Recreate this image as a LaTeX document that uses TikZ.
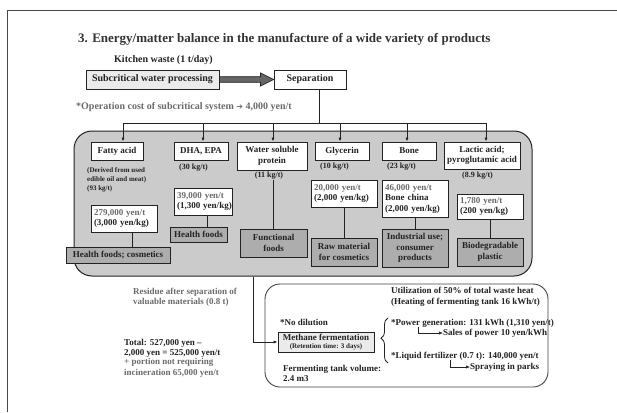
\documentclass[tikz,border=0pt]{standalone}
\usepackage{fontspec}
\setmainfont{Liberation Serif}
\newfontfamily\symfont{DejaVu Sans}
\usetikzlibrary{arrows.meta,decorations.pathreplacing,calc}

\definecolor{ink}{HTML}{222222}
\definecolor{titleink}{HTML}{333333}
\definecolor{graytext}{HTML}{6A6A6A}
\definecolor{panelgray}{HTML}{CBCBCB}
\definecolor{prodgray}{HTML}{ADADAD}
\definecolor{lightgray}{HTML}{EBEBEB}
\definecolor{framegray}{HTML}{4A4A4A}
\definecolor{shaftgray}{HTML}{666666}

\tikzset{
  base/.style={inner sep=0pt, font=\fontsize{9}{10.5}\selectfont\bfseries, text=ink, align=center},
  box/.style={base, draw=ink, line width=0.9pt, fill=white},
  bigbox/.style={box, font=\fontsize{10}{12}\selectfont\bfseries},
  prodbox/.style={box, fill=prodgray},
  pricebox/.style={box, align=left, inner xsep=3pt},
  note/.style={base, anchor=west, align=left},
  yieldnote/.style={note, font=\fontsize{8}{9.5}\selectfont\bfseries},
  conn/.style={draw=ink, line width=0.8pt},
  arr/.style={conn, -{Latex[length=4pt,width=3.2pt]}},
}

\begin{document}
\begin{tikzpicture}[x=1pt,y=-1pt]
\useasboundingbox (0,0) rectangle (617,412);

% page frame
\draw[framegray, line width=1pt] (7.5,412) -- (7.5,11) -- (617,11);

% title and input
\node[note, font=\fontsize{13}{15}\selectfont\bfseries, text=titleink] (title) at (78,39)
  {3. Energy/matter balance in the manufacture of a wide variety of products};
\node[note, font=\fontsize{10}{12}\selectfont\bfseries] (kw) at (114,60) {Kitchen waste (1 t/day)};

% processing chain
\node[bigbox, fill=lightgray, minimum width=133pt, minimum height=19pt] (sub) at (152.5,79.5) {Subcritical water processing};
\node[bigbox, minimum width=72pt, minimum height=19pt] (sep) at (310,79.5) {Separation};
\filldraw[fill=shaftgray, draw=ink, line width=0.7pt]
  ($(sub.east)+(0,-2.8)$) -- ($(sep.west)+(-13,-2.8)$) -- ($(sep.west)+(-13,-6.5)$) --
  (sep.west) -- ($(sep.west)+(-13,6.5)$) -- ($(sep.west)+(-13,2.8)$) -- ($(sub.east)+(0,2.8)$) -- cycle;

\node[note, font=\fontsize{10}{12}\selectfont\bfseries, text=graytext] (cost) at (76,107)
  {*Operation cost of subcritical system {\symfont\fontsize{8}{10}\selectfont ➔} 4,000 yen/t};

% products panel
\node[draw=ink, line width=1pt, fill=panelgray, rounded corners=18pt, minimum width=458pt, minimum height=145pt, inner sep=0pt] (panel) at (303,203.5) {};

% product headings
\node[box, minimum width=52pt, minimum height=18pt] (fatty) at (117,151) {Fatty acid};
\node[box, minimum width=54pt, minimum height=18pt] (dha) at (201,151) {DHA, EPA};
\node[box, minimum width=70pt, minimum height=28pt] (water) at (272,156) {Water soluble\\protein};
\node[box, minimum width=54pt, minimum height=18pt] (gly) at (342,151) {Glycerin};
\node[box, minimum width=54pt, minimum height=18pt] (bone) at (409,151) {Bone};
\node[box, minimum width=76pt, minimum height=27pt] (lactic) at (482,155.5) {Lactic acid;\\pyroglutamic acid};

% distribution bar
\coordinate (sj) at (319,123);
\coordinate (a1) at (123,123);
\coordinate (a2) at (203,123);
\coordinate (a3) at (273,123);
\coordinate (a4) at (340,123);
\coordinate (a5) at (407,123);
\coordinate (a6) at (486,123);
\draw[conn] (sep.south -| sj) -- (sj);
\draw[conn] (a1) -- (a6);
\draw[arr] (a1) -- (a1 |- fatty.north);
\draw[arr] (a2) -- (a2 |- dha.north);
\draw[arr] (a3) -- (a3 |- water.north);
\draw[arr] (a4) -- (a4 |- gly.north);
\draw[arr] (a5) -- (a5 |- bone.north);
\draw[arr] (a6) -- (a6 |- lactic.north);

% yields
\node[note, font=\fontsize{7}{9}\selectfont\bfseries] (fnote) at (87,180) {(Derived from used\\edible oil and meat)\\(93 kg/t)};
\node[yieldnote] (y2) at (179,168) {(30 kg/t)};
\node[yieldnote, anchor=center] (y3) at (269,176) {(11 kg/t)};
\node[yieldnote] (y4) at (320,167) {(10 kg/t)};
\node[yieldnote] (y5) at (387,167) {(23 kg/t)};
\node[yieldnote] (y6) at (462,176) {(8.9 kg/t)};

% prices
\node[pricebox, text width=60pt, minimum height=27pt] (p1) at (124,218.5) {\mbox{\textcolor{graytext}{279,000 yen/t}}\\\mbox{(3,000 yen/kg)}};
\node[pricebox, text width=52pt, minimum height=27pt] (p2) at (203,201.5) {\mbox{\textcolor{graytext}{39,000 yen/t}}\\\mbox{(1,300 yen/kg)}};
\node[pricebox, text width=60pt, minimum height=27pt] (p3) at (344,193.5) {\mbox{\textcolor{graytext}{20,000 yen/t}}\\\mbox{(2,000 yen/kg)}};
\node[pricebox, text width=60pt, minimum height=37pt] (p4) at (415,198.5) {\mbox{\textcolor{graytext}{46,000 yen/t}}\\Bone china\\\mbox{(2,000 yen/kg)}};
\node[pricebox, text width=60pt, minimum height=25pt] (p5) at (490,206.5) {\mbox{\textcolor{graytext}{1,780 yen/t}}\\\mbox{(200 yen/kg)}};

% uses
\node[prodbox, minimum width=104pt, minimum height=16pt] (h1) at (118,255) {Health foods; cosmetics};
\node[prodbox, minimum width=57pt, minimum height=15pt] (h2) at (198.5,234.5) {Health foods};
\node[prodbox, minimum width=67pt, minimum height=28pt] (h3) at (273.5,243) {Functional\\foods};
\node[prodbox, minimum width=66pt, minimum height=28pt] (h4) at (344,252) {Raw material\\for cosmetics};
\node[prodbox, minimum width=66pt, minimum height=38pt] (h5) at (415,248) {Industrial use;\\consumer\\products};
\node[prodbox, minimum width=66pt, minimum height=28pt] (h6) at (490,252) {Biodegradable\\plastic};

\coordinate (c1) at (132,0);
\coordinate (c2) at (207,0);
\draw[conn] (p1.south -| c1) -- (h1.north -| c1);
\draw[conn] (p2.south -| c2) -- (h2.north -| c2);
\draw[conn] (y3.south -| h3.north) -- (h3.north);
\draw[conn] (p3.south) -- (h4.north);
\draw[conn] (p4.south) -- (h5.north);
\draw[conn] (p5.south) -- (h6.north);

% residue and methane fermentation
\node[note, text=graytext] (res) at (133,297.5) {Residue after separation of\\valuable materials (0.8 t)};
\node[draw=ink!85, line width=0.9pt, fill=white, rounded corners=15pt, minimum width=283pt, minimum height=103pt, inner sep=0pt] (lower) at (406.5,335.5) {};
\node[box, fill=lightgray, minimum width=96pt, minimum height=20pt] (meth) at (326,342)
  {Methane fermentation\\[-2pt]{\fontsize{7}{8}\selectfont\bfseries (Retention time: 3 days)}};
\coordinate (rx) at (253,0);
\draw[arr] (panel.south -| rx) |- (meth.west);

\node[note] (nodil) at (280,322) {*No dilution};
\node[note] (tank) at (283,373.5) {Fermenting tank volume:\\2.4 m3};
\node[note] (heat) at (391,297) {Utilization of 50\% of total waste heat\\(Heating of fermenting tank 16 kWh/t)};
\draw[conn, decorate, decoration={brace, amplitude=7pt, aspect=0.55}] (388,363) -- (388,318);

\node[note] (pw) at (391,323) {*Power generation: 131 kWh (1,310 yen/t)};
\node[note] (sales) at (443,333) {Sales of power 10 yen/kWh};
\node[note] (lf) at (391,356) {*Liquid fertilizer (0.7 t): 140,000 yen/t};
\node[note] (spray) at (470,367) {Spraying in parks};
\coordinate (e1) at (418,327);
\coordinate (e2) at (450,360);
\draw[arr, line width=0.6pt] (e1) |- (sales.west);
\draw[arr, line width=0.6pt] (e2) |- (spray.west);

% totals
\node[note] (tot) at (124,348.5) {Total: 527,000 yen –\\2,000 yen = 525,000 yen/t};
\node[note, text=graytext] (inc) at (124,368) {+ portion not requiring\\incineration 65,000 yen/t};
\end{tikzpicture}
\end{document}
